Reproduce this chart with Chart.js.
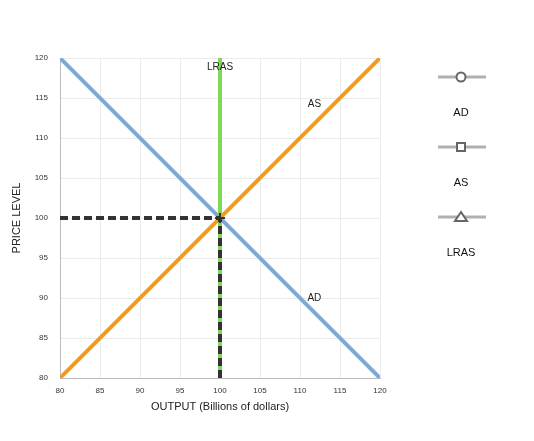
<!DOCTYPE html>
<html><head><script src="https://cdn.jsdelivr.net/npm/chart.js@4"></script>
<style>body{margin:0;background:#fff}#w{width:534px;height:441px}</style></head>
<body><div id="w"><canvas id="c"></canvas></div>
<script>
const adX=[80,120], adY=[120,80];
const asX=[80,120], asY=[80,120];
const lrasX=[100,100], lrasY=[80,120];
const eqX=100, eqY=100;
const xTicks=[80,85,90,95,100,105,110,115,120];
const yTicks=[80,85,90,95,100,105,110,115,120];
const legendNames=['AD','AS','LRAS'];
const pts=(xs,ys)=>xs.map((x,i)=>({x,y:ys[i]}));
const labels={
 id:'labels',
 afterDatasetsDraw(ch){
  const c=ch.ctx,x=ch.scales.x,y=ch.scales.y;
  c.save();c.font='10px Arial';c.fillStyle='#222';c.textAlign='center';c.textBaseline='middle';
  c.fillText('LRAS',x.getPixelForValue(100),y.getPixelForValue(118.8));
  c.fillText('AS',x.getPixelForValue(111.8),y.getPixelForValue(114.2));
  c.fillText('AD',x.getPixelForValue(111.8),y.getPixelForValue(90));
  const px=x.getPixelForValue(eqX),py=y.getPixelForValue(eqY);
  c.strokeStyle='#333';c.lineWidth=2;c.beginPath();
  c.moveTo(px-5,py);c.lineTo(px+5,py);c.moveTo(px,py-5);c.lineTo(px,py+5);c.stroke();
  const lx=461;
  legendNames.forEach((n,i)=>{
   const ly=77+i*70;
   c.strokeStyle='#b0b0b0';c.lineWidth=3;c.beginPath();c.moveTo(438,ly);c.lineTo(486,ly);c.stroke();
   c.strokeStyle='#666';c.lineWidth=2;c.fillStyle='#fff';c.beginPath();
   if(i==0){c.arc(lx,ly,4.5,0,Math.PI*2);}
   else if(i==1){c.rect(lx-4,ly-4,8,8);}
   else{c.moveTo(lx,ly-5);c.lineTo(lx+6,ly+4);c.lineTo(lx-6,ly+4);c.closePath();}
   c.fill();c.stroke();
   c.fillStyle='#111';c.font='11px Arial';c.fillText(n,lx,ly+36);
  });
  c.restore();
 }};
new Chart(document.getElementById('c'),{
 type:'scatter',
 data:{datasets:[
  {data:pts([80,eqX],[eqY,eqY]),borderColor:'#333',borderWidth:4,borderDash:[8,4],showLine:true,pointRadius:0},
  {data:pts([eqX,eqX],[80,eqY]),borderColor:'#333',borderWidth:4,borderDash:[8,4],showLine:true,pointRadius:0},
  {data:pts(lrasX,lrasY),borderColor:'#7ed957',borderWidth:4,showLine:true,pointRadius:0},
  {data:pts(adX,adY),borderColor:'#7ea8d6',borderWidth:4,showLine:true,pointRadius:0},
  {data:pts(asX,asY),borderColor:'#f39c1a',borderWidth:4,showLine:true,pointRadius:0}
 ]},
 options:{responsive:true,maintainAspectRatio:false,animation:false,
  layout:{padding:{left:6,right:154,top:58,bottom:23}},
  plugins:{legend:{display:false},tooltip:{enabled:false}},
  scales:{
   x:{min:80,max:120,afterBuildTicks(s){s.ticks=xTicks.map(v=>({value:v}));},
    afterFit(s){s.height=40;},
    grid:{color:'#ececec',drawTicks:false},border:{color:'#bbb'},
    ticks:{font:{size:8,family:'Arial'},color:'#333',padding:8},
    title:{display:true,text:'OUTPUT (Billions of dollars)',font:{size:11,family:'Arial'},color:'#222',padding:{top:2}}},
   y:{min:80,max:120,afterBuildTicks(s){s.ticks=yTicks.map(v=>({value:v}));},
    afterFit(s){s.width=54;},
    grid:{color:'#ececec',drawTicks:false},border:{color:'#bbb'},
    ticks:{font:{size:8,family:'Arial'},color:'#333',padding:12},
    title:{display:true,text:'PRICE LEVEL',font:{size:11,family:'Arial'},color:'#222',padding:{bottom:2}}}
  }},
 plugins:[labels]
});
</script></body></html>
